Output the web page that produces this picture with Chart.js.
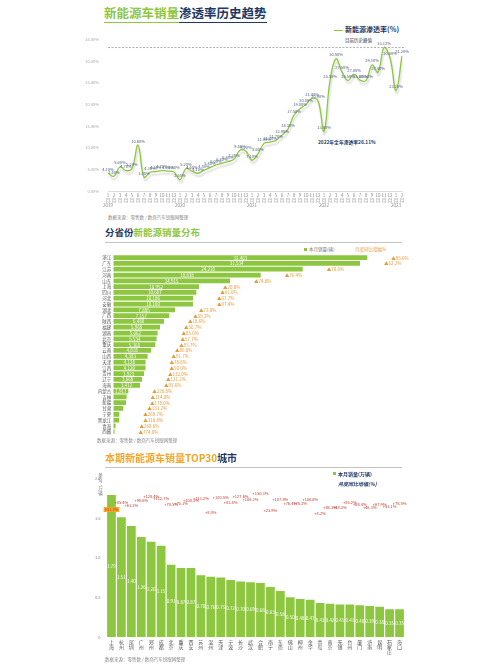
<!DOCTYPE html>
<html>
<head>
<meta charset="utf-8">
<script src="https://cdn.jsdelivr.net/npm/chart.js@4.4.0/dist/chart.umd.min.js"></script>
<style>
html, body { margin: 0; padding: 0; background: #fff; }
body { width: 500px; height: 666px; position: relative; overflow: hidden; font-family: "Noto Sans CJK SC", "Noto Sans", sans-serif; }
.abs { position: absolute; white-space: nowrap; line-height: 1; }
canvas { position: absolute; }
.b { font-weight: bold; }
.g { color: #8dc63f; }
.n { color: #1f3864; }
.o { color: #f4a52a; }
.rule { position: absolute; height: 1px; background: #c4c4c4; }
.src { font-size: 4.5px; color: #8a8a8a; }
</style>
</head>
<body>

<!-- section 1 -->
<div class="abs b" style="left:104px;top:7px;font-size:12.5px;">
  <span class="g" style="border-bottom:1px solid #8dc63f;">新能源车销量</span><span class="n" style="border-bottom:1px solid #1f3864;">渗透率历史趋势</span>
</div>
<div class="abs" style="left:334px;top:30px;width:9px;height:1px;background:#8dc63f;"></div>
<div class="abs b n" style="left:345px;top:26px;font-size:7px;">新能源渗透率(%)</div>
<div class="abs" style="left:345px;top:38px;font-size:4.5px;color:#333;">目前历史峰值</div>
<div class="abs b n" style="left:318px;top:140px;font-size:4.8px;">2022年全年渗透率26.11%</div>
<div class="abs src" style="left:108px;top:215px;">数据来源：零售数 / 数商汽车锐眼网整理</div>
<canvas id="c1" width="355" height="185" style="left:60px;top:28px;"></canvas>

<!-- section 2 -->
<div class="abs b" style="left:105px;top:228px;font-size:9.5px;"><span class="n">分省份</span><span class="g">新能源销量分布</span></div>
<div class="rule" style="left:105px;top:242px;width:297px;"></div>
<div class="abs" style="left:304px;top:248px;width:3px;height:3px;background:#8dc63f;"></div>
<div class="abs" style="left:309px;top:247px;font-size:4.5px;color:#777;">本月销量(辆)</div>
<div class="abs" style="left:355px;top:247px;font-size:4.5px;color:#e69b3a;">月度同比增幅%</div>
<canvas id="c2" width="355" height="190" style="left:60px;top:250px;"></canvas>
<div class="abs src" style="left:97px;top:438px;">数据来源：零售数 / 数商汽车锐眼网整理</div>

<!-- section 3 -->
<div class="abs b" style="left:105px;top:453px;font-size:10px;"><span class="o">本期新能源车销量TOP30</span><span class="n">城市</span></div>
<div class="rule" style="left:105px;top:467px;width:297px;"></div>
<div class="abs" style="left:333px;top:472px;width:3px;height:3px;background:#8dc63f;"></div>
<div class="abs b n" style="left:338px;top:471px;font-size:5px;">本月销量(万辆)</div>
<div class="abs b n" style="left:338px;top:481px;font-size:5px;font-style:italic;">月度同比增幅(%)</div>
<div class="abs" style="left:98px;top:473px;font-size:4.5px;color:#777;writing-mode:vertical-rl;">单位：万辆</div>
<canvas id="c3" width="355" height="196" style="left:60px;top:470px;"></canvas>
<div class="abs src" style="left:105px;top:657px;">数据来源：零售数 / 数商汽车锐眼网整理</div>

<script>
// 渗透率 2019.01 - 2023.02
const monthLabels = [
  '1月','2月','3月','4月','5月','6月','7月','8月','9月','10月','11月','12月',
  '1月','2月','3月','4月','5月','6月','7月','8月','9月','10月','11月','12月',
  '1月','2月','3月','4月','5月','6月','7月','8月','9月','10月','11月','12月',
  '1月','2月','3月','4月','5月','6月','7月','8月','9月','10月','11月','12月',
  '1月','2月'
];
const yearMarks = { 0: '2019', 12: '2020', 24: '2021', 36: '2022', 48: '2023' };
const penetration = [
  4.1, 3.4, 5.6, 4.7, 5.2, 10.6, 3.2, 4.3, 4.5, 4.7, 4.6, 4.4,
  2.6, 5.2, 4.6, 4.1, 4.8, 5.4, 6.0, 6.4, 6.8, 7.3, 9.4, 9.2,
  7.1, 8.6, 11.0, 11.3, 11.7, 12.9, 14.3, 17.5, 19.0, 20.0, 21.4, 20.9,
  13.8, 25.5, 30.5, 27.5, 25.5, 27.0, 25.6, 25.5, 29.1, 27.4, 33.12, 30.8,
  23.2, 31.2
];
const peakValue = 33.12;

// 分省份
const provinces = ['浙江','广东','江苏','河南','山东','上海','四川','河北','安徽','湖北','广西','陕西','福建','湖南','北京','重庆',
  '云南','山西','天津','江西','贵州','辽宁','海南','内蒙古','吉林','新疆','甘肃','宁夏','黑龙江','青海','西藏'];
const provSales = [32463, 31534, 24210, 18838, 14915, 10952, 10607, 10186, 10180, 7885, 7157, 6480, 5968, 5662, 5534, 5368,
  4818, 4383, 4128, 4120, 3923, 3668, 3412, 1917, 1700, 1623, 1278, 767, 760, 294, 166];
const provGrowth = [95.6, 62.2, 70.6, 76.4, 74.8, 20.0, 61.0, 67.7, 97.4, 73.0, 59.2, 18.6, 50.7, 85.6, 57.7, 93.7,
  86.0, 91.7, 78.8, 50.0, 132.0, 121.2, 93.6, 228.8, 114.0, 178.0, 133.2, 269.7, 318.8, 268.6, 774.0];

// TOP30城市
const cities = ['上海','杭州','深圳','广州','郑州','成都','北京','重庆','西安','苏州','温州','天津','宁波','长沙','武汉',
  '合肥','南宁','东莞','佛山','柳州','金华','青岛','南京','无锡','台州','厦门','济南','昆明','石家庄','海口'];
const citySales = [1.79, 1.51, 1.40, 1.26, 1.20, 1.15, 0.91, 0.87, 0.87, 0.78, 0.76, 0.75, 0.72, 0.70, 0.69,
  0.68, 0.63, 0.58, 0.50, 0.48, 0.47, 0.43, 0.42, 0.41, 0.41, 0.40, 0.39, 0.38, 0.35, 0.35];
const cityGrowth = [31.2, 85.4, 61.3, 98.6, 128.4, 112.7, 70.5, 76.1, 100.3, 113.2, 8.8, 120.5, 83.4, 127.6, 108.2,
  150.3, 23.9, 107.8, 76.4, 78.2, 104.6, 4.2, 46.1, 48.3, 85.2, 68.4, 46.3, 67.9, 53.1, 78.5];

const green = '#8dc63f';
const font = '"Noto Sans CJK SC", "Noto Sans", sans-serif';
Chart.defaults.font.family = font;

// ---- chart 1 ----
const lineDeco = {
  id: 'lineDeco',
  beforeDatasetsDraw(chart) {
    const ctx = chart.ctx;
    ctx.save();
    ctx.shadowColor = 'rgba(0,0,0,0.18)';
    ctx.shadowOffsetY = 3;
    ctx.shadowOffsetX = 1;
    ctx.shadowBlur = 2;
  },
  afterDatasetsDraw(chart) {
    const ctx = chart.ctx;
    ctx.restore();
    const { left, right } = chart.chartArea;
    const y = chart.scales.y.getPixelForValue(peakValue);
    ctx.save();
    ctx.strokeStyle = '#999';
    ctx.lineWidth = 0.8;
    ctx.setLineDash([2, 1.5]);
    ctx.beginPath();
    ctx.moveTo(left, y);
    ctx.lineTo(right + 3, y);
    ctx.stroke();
    ctx.setLineDash([]);
    ctx.font = '4px ' + font;
    ctx.fillStyle = '#4a5a7a';
    ctx.textAlign = 'center';
    ctx.textBaseline = 'bottom';
    chart.getDatasetMeta(0).data.forEach((p, i) => {
      ctx.fillText(penetration[i].toFixed(2) + '%', p.x, p.y - 2);
    });
    ctx.restore();
  }
};

new Chart(document.getElementById('c1'), {
  type: 'line',
  data: {
    labels: monthLabels.map((m, i) => {
      const parts = m.length > 2 ? [m.slice(0, 2), m.slice(2)] : [m[0], m[1]];
      return yearMarks[i] ? parts.concat([yearMarks[i]]) : parts;
    }),
    datasets: [{
      data: penetration,
      borderColor: green,
      borderWidth: 1.3,
      pointRadius: 0,
      tension: 0.4,
      fill: false
    }]
  },
  options: {
    responsive: false,
    animation: false,
    layout: { padding: { left: 0, right: 13, top: 8, bottom: 0 } },
    plugins: { legend: { display: false }, tooltip: { enabled: false } },
    scales: {
      x: {
        grid: { display: false, drawTicks: false },
        border: { color: '#ddd' },
        ticks: { autoSkip: false, maxRotation: 0, font: { size: 4.5, lineHeight: 1.1 }, color: '#888', padding: 2 },
        afterFit: s => { s.height = 22; }
      },
      y: {
        min: 0, max: 35,
        grid: { display: false, drawTicks: false },
        border: { display: false },
        ticks: { stepSize: 5, callback: v => v.toFixed(2) + '%', font: { size: 4 }, color: '#aaa', padding: 9 },
        afterFit: s => { s.width = 48; }
      }
    }
  },
  plugins: [lineDeco]
});

// ---- chart 2 ----
const provLabels = {
  id: 'provLabels',
  afterDatasetsDraw(chart) {
    const ctx = chart.ctx;
    const x0 = chart.scales.x.getPixelForValue(0);
    ctx.save();
    ctx.font = '4.5px ' + font;
    ctx.textBaseline = 'middle';
    chart.getDatasetMeta(0).data.forEach((bar, i) => {
      ctx.fillStyle = '#fff';
      ctx.textAlign = 'center';
      if (bar.x - x0 > 14) ctx.fillText(provSales[i].toLocaleString('en-US'), (bar.x + x0) / 2, bar.y + 0.3);
      ctx.fillStyle = '#e69b3a';
      ctx.textAlign = 'left';
      ctx.fillText('▲' + provGrowth[i].toFixed(1) + '%', bar.x + 24, bar.y + 0.3);
    });
    ctx.restore();
  }
};

new Chart(document.getElementById('c2'), {
  type: 'bar',
  data: {
    labels: provinces,
    datasets: [{ data: provSales, backgroundColor: green, barPercentage: 0.82, categoryPercentage: 1 }]
  },
  options: {
    indexAxis: 'y',
    responsive: false,
    animation: false,
    layout: { padding: { left: 0, right: 12.2, top: 4.4, bottom: 5.4 } },
    plugins: { legend: { display: false }, tooltip: { enabled: false } },
    scales: {
      x: { display: false, min: 0, max: 37000 },
      y: {
        grid: { display: false, drawTicks: false },
        border: { display: false },
        ticks: { autoSkip: false, font: { size: 4.5 }, color: '#555', padding: 2 },
        afterFit: s => { s.width = 53.3; }
      }
    }
  },
  plugins: [provLabels]
});

// ---- chart 3 ----
const cityLabels = {
  id: 'cityLabels',
  afterDatasetsDraw(chart) {
    const ctx = chart.ctx;
    const yb = chart.scales.y.getPixelForValue(0);
    ctx.save();
    ctx.textAlign = 'center';
    ctx.textBaseline = 'middle';
    ctx.font = '4.5px ' + font;
    ctx.fillStyle = '#fff';
    chart.getDatasetMeta(0).data.forEach((bar, i) => {
      ctx.fillText(citySales[i].toFixed(2), bar.x, (bar.y + yb) / 2);
    });
    ctx.font = '4px ' + font;
    chart.getDatasetMeta(1).data.forEach((p, i) => {
      const txt = '+' + cityGrowth[i].toFixed(1) + '%';
      if (i === 0) {
        const w = ctx.measureText(txt).width + 2;
        ctx.fillStyle = '#f4a52a';
        ctx.fillRect(p.x - w / 2, p.y - 2.5, w, 5);
      }
      ctx.fillStyle = '#c0392b';
      ctx.fillText(txt, p.x, p.y);
    });
    ctx.restore();
  }
};

new Chart(document.getElementById('c3'), {
  data: {
    labels: cities.map(c => c.split('')),
    datasets: [
      { type: 'bar', data: citySales, backgroundColor: green, barPercentage: 0.88, categoryPercentage: 1, yAxisID: 'y' },
      { type: 'line', data: cityGrowth, showLine: false, pointRadius: 0, yAxisID: 'y2' }
    ]
  },
  options: {
    responsive: false,
    animation: false,
    layout: { padding: { left: 0, right: 10.5, top: 6, bottom: 0 } },
    plugins: { legend: { display: false }, tooltip: { enabled: false } },
    scales: {
      x: {
        grid: { display: false, drawTicks: false },
        border: { display: false },
        ticks: { autoSkip: false, maxRotation: 0, font: { size: 5, lineHeight: 1.05 }, color: '#555', padding: 2 },
        afterFit: s => { s.height = 29; }
      },
      y: {
        min: 0, max: 2,
        grid: { display: false, drawTicks: false },
        border: { display: false },
        ticks: { stepSize: 0.5, font: { size: 4 }, color: '#888', padding: 6 },
        afterFit: s => { s.width = 46.5; }
      },
      y2: { display: false, min: -930, max: 266 }
    }
  },
  plugins: [cityLabels]
});
</script>
</body>
</html>
